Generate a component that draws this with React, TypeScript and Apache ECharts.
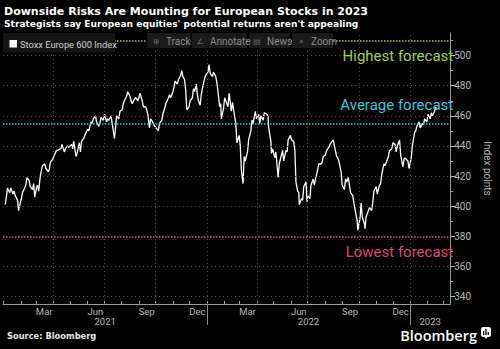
import React, { useEffect, useRef } from "react";
import * as echarts from "echarts";

// ---- Data (Stoxx Europe 600 Index) ----
const dates: string[] = [
  "2021-01-04","2021-01-06","2021-01-08","2021-01-12","2021-01-14","2021-01-18","2021-01-20","2021-01-22","2021-01-26","2021-01-28","2021-01-29",
  "2021-02-02","2021-02-04","2021-02-08","2021-02-10","2021-02-12","2021-02-16","2021-02-18","2021-02-22","2021-02-24","2021-02-26",
  "2021-03-01","2021-03-03","2021-03-05","2021-03-08","2021-03-10","2021-03-12","2021-03-16","2021-03-18","2021-03-22","2021-03-24","2021-03-26","2021-03-30",
  "2021-04-01","2021-04-06","2021-04-08","2021-04-12","2021-04-14","2021-04-16","2021-04-20","2021-04-22","2021-04-26","2021-04-28",
  "2021-05-03","2021-05-05","2021-05-07","2021-05-11","2021-05-13","2021-05-17","2021-05-19","2021-05-21","2021-05-25","2021-05-27",
  "2021-06-01","2021-06-03","2021-06-07","2021-06-09","2021-06-11","2021-06-15","2021-06-17","2021-06-21","2021-06-23","2021-06-25","2021-06-29",
  "2021-07-01","2021-07-05","2021-07-07","2021-07-09","2021-07-13","2021-07-15","2021-07-19","2021-07-21","2021-07-23","2021-07-27","2021-07-29",
  "2021-08-02","2021-08-04","2021-08-06","2021-08-10","2021-08-12","2021-08-16","2021-08-18","2021-08-20","2021-08-24","2021-08-26","2021-08-30",
  "2021-09-01","2021-09-03","2021-09-07","2021-09-09","2021-09-13","2021-09-15","2021-09-17","2021-09-20","2021-09-22","2021-09-24","2021-09-28","2021-09-30",
  "2021-10-04","2021-10-06","2021-10-08","2021-10-12","2021-10-14","2021-10-18","2021-10-20","2021-10-22","2021-10-26","2021-10-28",
  "2021-11-01","2021-11-03","2021-11-05","2021-11-09","2021-11-11","2021-11-15","2021-11-17","2021-11-19","2021-11-22","2021-11-24","2021-11-26","2021-11-30",
  "2021-12-02","2021-12-06","2021-12-08","2021-12-10","2021-12-13","2021-12-15","2021-12-17","2021-12-20","2021-12-22","2021-12-24","2021-12-28","2021-12-30",
  "2022-01-03","2022-01-05","2022-01-07","2022-01-11","2022-01-13","2022-01-17","2022-01-19","2022-01-21","2022-01-24","2022-01-26","2022-01-27","2022-01-31",
  "2022-02-02","2022-02-04","2022-02-08","2022-02-10","2022-02-14","2022-02-16","2022-02-18","2022-02-22","2022-02-24","2022-02-28",
  "2022-03-02","2022-03-04","2022-03-07","2022-03-09","2022-03-11","2022-03-15","2022-03-17","2022-03-21","2022-03-23","2022-03-25","2022-03-29","2022-03-31",
  "2022-04-04","2022-04-06","2022-04-08","2022-04-12","2022-04-14","2022-04-19","2022-04-21","2022-04-22","2022-04-26","2022-04-27","2022-04-29",
  "2022-05-03","2022-05-05","2022-05-09","2022-05-11","2022-05-13","2022-05-17","2022-05-19","2022-05-23","2022-05-25","2022-05-27","2022-05-31",
  "2022-06-02","2022-06-06","2022-06-08","2022-06-10","2022-06-13","2022-06-15","2022-06-16","2022-06-20","2022-06-22","2022-06-24","2022-06-28","2022-06-30",
  "2022-07-01","2022-07-05","2022-07-07","2022-07-11","2022-07-13","2022-07-15","2022-07-19","2022-07-21","2022-07-25","2022-07-27","2022-07-29",
  "2022-08-02","2022-08-04","2022-08-08","2022-08-10","2022-08-12","2022-08-16","2022-08-18","2022-08-22","2022-08-24","2022-08-26","2022-08-30",
  "2022-09-01","2022-09-05","2022-09-07","2022-09-09","2022-09-12","2022-09-14","2022-09-16","2022-09-20","2022-09-22","2022-09-26","2022-09-28","2022-09-29",
  "2022-10-03","2022-10-05","2022-10-07","2022-10-11","2022-10-12","2022-10-14","2022-10-18","2022-10-20","2022-10-24","2022-10-26","2022-10-28",
  "2022-11-01","2022-11-03","2022-11-07","2022-11-09","2022-11-11","2022-11-15","2022-11-17","2022-11-21","2022-11-23","2022-11-25","2022-11-29",
  "2022-12-01","2022-12-05","2022-12-07","2022-12-09","2022-12-13","2022-12-15","2022-12-19","2022-12-21","2022-12-23","2022-12-28","2022-12-30",
  "2023-01-03","2023-01-05","2023-01-09","2023-01-11","2023-01-13","2023-01-17","2023-01-19","2023-01-23","2023-01-25","2023-01-27","2023-01-31",
  "2023-02-02","2023-02-06","2023-02-08","2023-02-10","2023-02-14","2023-02-16","2023-02-17",
];
const closes: number[] = [
  401,406,412,409,412,408,410,407,404,397,399,
  405,409,412,414,419,417,413,411,415,406,
  412,414,410,420,424,427,428,425,423,424,429,431,
  433,437,437,438,438,441,436,438,440,439,
  441,438,443,433,435,442,436,443,445,447,
  451,450,456,455,458,460,456,453,455,459,457,
  461,456,458,457,460,455,445,452,460,458,463,
  464,468,470,473,476,473,470,468,471,472,470,
  472,475,470,466,466,464,461,452,458,457,454,453,
  451,450,455,457,461,466,469,470,474,472,
  476,479,483,481,484,487,490,486,484,477,464,466,
  470,472,478,476,481,474,470,467,474,478,485,487,
  489,494,488,486,489,486,482,476,466,468,458,465,
  472,470,466,475,463,469,464,455,442,447,
  440,424,415,433,430,436,444,450,457,455,463,458,
  461,455,460,457,462,461,459,452,443,435,438,
  432,436,419,428,431,437,430,437,436,444,447,
  444,443,437,416,410,409,401,405,404,413,416,403,
  407,405,414,418,414,418,424,428,428,429,433,
  434,437,439,441,442,444,440,433,432,430,423,
  414,411,418,416,419,414,409,407,402,394,390,384,
  392,402,393,388,385,393,397,399,397,403,410,
  413,408,414,415,421,428,427,431,433,437,438,
  442,441,436,440,444,434,426,431,432,430,425,
  432,440,449,450,453,456,452,455,454,458,456,
  461,458,462,460,463,466,464,
];

const seriesName = "Stoxx Europe 600 Index";
const monthNames = ["Jan","Feb","Mar","Apr","May","Jun","Jul","Aug","Sep","Oct","Nov","Dec"];
const labelledMonths = ["Mar", "Jun", "Sep", "Dec"];
const gridMonths = ["Jan", "Apr", "Jul", "Oct"];
const years = [2021, 2022, 2023];
const yLabelValues = [340, 360, 380, 400, 420, 440, 460, 480, 500];
const yMinorValues = [350, 370, 390, 410, 430, 450, 470, 490, 510];
const forecastNames = ["Highest forecast", "Average forecast", "Lowest forecast"];
const forecastValues = [510, 455, 380];
const forecastColors = ["#a2d13e", "#3fc6d6", "#dd4a69"];
const forecastAbove = [false, true, false];

const X_MIN = Date.UTC(2020, 11, 31);
const X_MAX = Date.UTC(2023, 2, 14);
const Y_MIN = 335;
const Y_MAX = 515;

export default function App() {
  const ref = useRef<HTMLDivElement>(null);
  useEffect(() => {
    if (!ref.current) return;
    const chart = echarts.init(ref.current, null, { renderer: "svg" });

    const data = dates.map((d, i) => [Date.parse(d), closes[i]]);

    const monthStarts: number[] = [];
    const midMonths: number[] = [];
    const quarterLines: number[] = [];
    years.forEach((y) => {
      for (let m = 0; m < 12; m++) {
        const s = Date.UTC(y, m, 1);
        if (s > X_MIN && s < X_MAX) {
          monthStarts.push(s);
          if (gridMonths.includes(monthNames[m]) && !(y === 2021 && m === 0)) quarterLines.push(s);
        }
        const mid = Date.UTC(y, m, 15);
        if (labelledMonths.includes(monthNames[m]) && mid < Date.UTC(2023, 0, 1)) midMonths.push(mid);
      }
    });
    const yearStarts = years.slice(1).map((y) => Date.UTC(y, 0, 1));
    const yearMids = years.map((y) => {
      const s = Math.max(Date.UTC(y, 0, 1), X_MIN);
      const e = Math.min(Date.UTC(y + 1, 0, 1), X_MAX);
      return (s + e) / 2;
    });

    const labelFont = { color: "#b8b8b8", fontSize: 9.5, fontFamily: "Roboto" };
    const gridStyle = { color: "#4d4d4d", type: [1, 3] as any, width: 1 };

    const option: any = {
      animation: false,
      backgroundColor: "#000",
      grid: { left: 3, right: 37, top: 33, bottom: 45 },
      xAxis: [
        {
          type: "value",
          min: X_MIN,
          max: X_MAX,
          splitLine: { show: false },
          axisLine: { show: true, lineStyle: { color: "#9a9a9a", width: 1 } },
          axisTick: { show: true, inside: true, length: 3, customValues: monthStarts, lineStyle: { color: "#9a9a9a" } },
          axisLabel: {
            ...labelFont,
            margin: 2,
            customValues: midMonths,
            formatter: (v: number) => monthNames[new Date(v).getUTCMonth()],
          },
        },
        {
          type: "value",
          min: X_MIN,
          max: X_MAX,
          position: "bottom",
          splitLine: { show: false },
          axisLine: { show: false },
          axisTick: { show: true, length: 21, customValues: yearStarts, lineStyle: { color: "#8a8a8a" } },
          axisLabel: {
            ...labelFont,
            margin: 12.5,
            customValues: yearMids,
            formatter: (v: number) => String(new Date(v).getUTCFullYear()),
          },
        },
      ],
      yAxis: [
        {
          type: "value",
          position: "right",
          min: Y_MIN,
          max: Y_MAX,
          splitLine: { show: false },
          axisLine: { show: true, lineStyle: { color: "#9a9a9a", width: 1 } },
          axisTick: { show: true, length: 5, customValues: yLabelValues, lineStyle: { color: "#bbbbbb" } },
          axisLabel: { ...labelFont, fontSize: 10, margin: 4, customValues: yLabelValues },
          name: "Index points",
          nameLocation: "middle",
          nameRotate: -90,
          nameGap: 31,
          nameTextStyle: { color: "#b8b8b8", fontSize: 10, fontFamily: "Roboto" },
        },
        {
          type: "value",
          position: "right",
          min: Y_MIN,
          max: Y_MAX,
          splitLine: { show: false },
          axisLine: { show: false },
          axisTick: { show: true, length: 3, customValues: yMinorValues, lineStyle: { color: "#9a9a9a" } },
          axisLabel: { show: false },
        },
      ],
      series: [
        {
          type: "line",
          data: [],
          silent: true,
          z: 1,
          markLine: {
            silent: true,
            symbol: "none",
            animation: false,
            label: { show: false },
            lineStyle: gridStyle,
            data: [
              ...yLabelValues.map((v) => ({ yAxis: v })),
              ...quarterLines.map((t) => ({ xAxis: t })),
            ],
          },
        },
        {
          type: "line",
          data: [],
          silent: true,
          z: 2,
          markLine: {
            silent: true,
            symbol: "none",
            animation: false,
            data: forecastNames.map((n, i) => ({
              yAxis: forecastValues[i],
              lineStyle: { color: forecastColors[i], type: [1.5, 1.5], width: 1.6 },
              label: {
                show: true,
                formatter: n,
                position: forecastAbove[i] ? "insideEndTop" : "insideEndBottom",
                distance: forecastAbove[i] ? [-3, 11] : [-3, 8],
                color: forecastColors[i],
                fontSize: 15,
                fontFamily: "Roboto",
              },
            })),
          },
        },
        {
          name: seriesName,
          type: "line",
          data,
          z: 3,
          showSymbol: false,
          symbol: "none",
          lineStyle: { color: "#ffffff", width: 1.3 },
        },
      ],
      graphic: [
        {
          type: "text", x: 4, y: 11.5,
          style: { text: "Downside Risks Are Mounting for European Stocks in 2023", fill: "#ffffff", font: "bold 11px 'DejaVu Sans'", verticalAlign: "middle" },
        },
        {
          type: "text", x: 4, y: 23.8,
          style: { text: "Strategists say European equities' potential returns aren't appealing", fill: "#ffffff", font: "bold 9.1px 'DejaVu Sans'", verticalAlign: "middle" },
        },
        // legend box
        { type: "rect", shape: { x: 3, y: 33, width: 112, height: 19 }, style: { fill: "#151515" }, z: 10 },
        { type: "rect", shape: { x: 9.5, y: 40, width: 7.5, height: 7.5 }, style: { fill: "#ffffff" }, z: 11 },
        { type: "text", x: 20, y: 44.5, style: { text: seriesName, fill: "#d0d0d0", font: "9.3px Roboto", verticalAlign: "middle" }, z: 11 },
        // toolbar
        { type: "rect", shape: { x: 147, y: 33, width: 43, height: 15 }, style: { fill: "#1a1a1a" }, z: 10 },
        { type: "rect", shape: { x: 192, y: 33, width: 55, height: 15 }, style: { fill: "#1a1a1a" }, z: 10 },
        { type: "rect", shape: { x: 249, y: 33, width: 41, height: 15 }, style: { fill: "#1a1a1a" }, z: 10 },
        { type: "rect", shape: { x: 292, y: 33, width: 41, height: 15 }, style: { fill: "#1a1a1a" }, z: 10 },
        { type: "text", x: 156, y: 41, style: { text: "⊕", fill: "#6e6e6e", font: "8px 'DejaVu Sans'", align: "center", verticalAlign: "middle" }, z: 11 },
        { type: "text", x: 166, y: 41.5, style: { text: "Track", fill: "#8c8c8c", font: "10px Roboto", verticalAlign: "middle" }, z: 11 },
        { type: "text", x: 200, y: 41, style: { text: "∠", fill: "#6e6e6e", font: "8px 'DejaVu Sans'", align: "center", verticalAlign: "middle" }, z: 11 },
        { type: "text", x: 210, y: 41.5, style: { text: "Annotate", fill: "#8c8c8c", font: "10px Roboto", verticalAlign: "middle" }, z: 11 },
        { type: "text", x: 257, y: 41, style: { text: "▤", fill: "#6e6e6e", font: "8px 'DejaVu Sans'", align: "center", verticalAlign: "middle" }, z: 11 },
        { type: "text", x: 267, y: 41.5, style: { text: "News", fill: "#8c8c8c", font: "10px Roboto", verticalAlign: "middle" }, z: 11 },
        { type: "text", x: 301, y: 41, style: { text: "⌕", fill: "#6e6e6e", font: "8px 'DejaVu Sans'", align: "center", verticalAlign: "middle" }, z: 11 },
        { type: "text", x: 311, y: 41.5, style: { text: "Zoom", fill: "#8c8c8c", font: "10px Roboto", verticalAlign: "middle" }, z: 11 },
        // footer
        { type: "text", x: 7, y: 336, style: { text: "Source: Bloomberg", fill: "#e6e6e6", font: "bold 8.3px 'DejaVu Sans'", verticalAlign: "middle" } },
        { type: "text", x: 477, y: 335.5, style: { text: "Bloomberg", fill: "#ffffff", font: "600 14.5px 'Open Sans'", align: "right", verticalAlign: "middle" } },
        { type: "rect", shape: { x: 481, y: 327, width: 10, height: 10, r: 2 }, style: { fill: "#ffffff" } },
        { type: "polygon", shape: { points: [[484, 336], [488, 336], [486, 339]] }, style: { fill: "#ffffff" } },
        { type: "rect", shape: { x: 483, y: 331, width: 1.3, height: 4 }, style: { fill: "#000" } },
        { type: "rect", shape: { x: 485.3, y: 329, width: 1.3, height: 6 }, style: { fill: "#000" } },
        { type: "rect", shape: { x: 487.6, y: 332, width: 1.3, height: 3 }, style: { fill: "#000" } },
      ],
    };
    chart.setOption(option);
    return () => chart.dispose();
  }, []);

  return (
    <div
      ref={ref}
      style={{ position: "absolute", left: 0, top: 0, width: 500, height: 349, background: "#000" }}
    />
  );
}
